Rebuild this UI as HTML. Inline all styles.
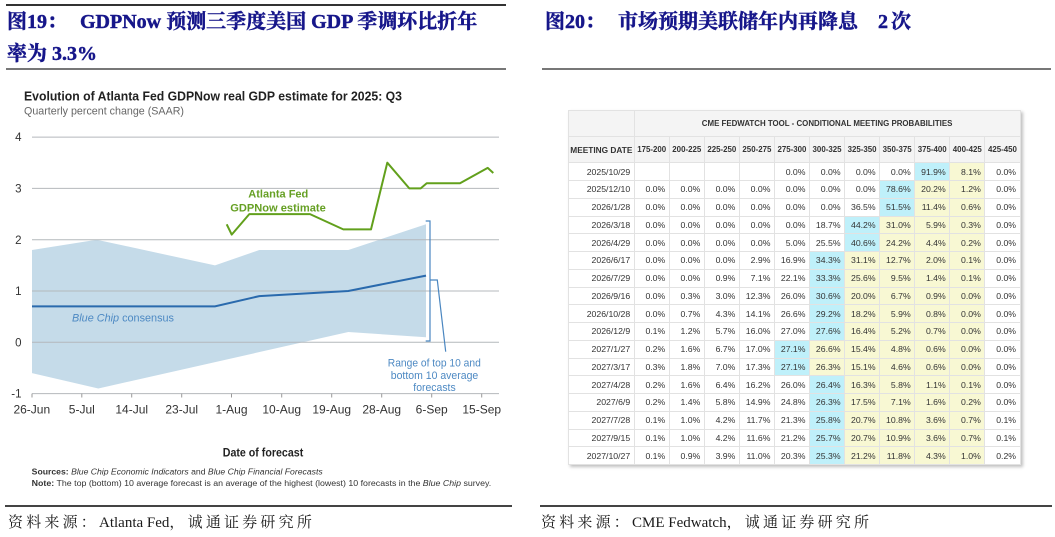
<!DOCTYPE html>
<html><head><meta charset="utf-8"><style>
html,body{margin:0;padding:0;background:#fff;}
body{width:1055px;height:537px;position:relative;overflow:hidden;}
.t{position:absolute;font-family:"Liberation Serif","Noto Serif CJK SC",serif;font-weight:bold;font-size:20px;color:#16168a;white-space:pre;line-height:20px;-webkit-text-stroke:0.45px #16168a;}
.ln{position:absolute;}
.ft{position:absolute;font-family:"Liberation Serif","Noto Serif CJK SC",serif;font-size:15px;color:#1a1a1a;white-space:pre;line-height:16px;}
.ft .c{letter-spacing:3.2px;}
table{position:absolute;left:568px;top:110px;width:451.5px;border-collapse:collapse;table-layout:fixed;font-family:"Liberation Sans",Arial,sans-serif;color:#333;box-shadow:2px 2px 3px rgba(0,0,0,0.25);background:#fff;}
td{border:1px solid #e2e2e2;padding:0 3.5px 0 0;font-size:8.7px;text-align:right;overflow:hidden;white-space:nowrap;}
tr.h td{background:#f4f4f4;font-weight:bold;font-size:7.9px;text-align:center;padding:0;}
tr.h td.md{font-size:8.3px;}
tr.h1{height:26px;} tr.h2{height:26.3px;}
tr.d{height:17.76px;}
td.c{background:#bff0fa;} td.y{background:#f8f8d3;}
</style></head><body>

<!-- left title -->
<div class="ln" style="left:6px;top:4px;width:500px;height:2px;background:#333;"></div>
<div class="t" style="left:7px;top:12px;">图19：</div>
<div class="t" style="left:80px;top:12px;">GDPNow 预测三季度美国 GDP 季调环比折年</div>
<div class="t" style="left:7px;top:44px;">率为 3.3%</div>
<div class="ln" style="left:6px;top:68px;width:500px;height:2px;background:#777;"></div>

<!-- right title -->
<div class="t" style="left:545px;top:12px;">图20：</div>
<div class="t" style="left:618px;top:12px;">市场预期美联储年内再降息</div>
<div class="t" style="left:878px;top:12px;">2</div>
<div class="t" style="left:891px;top:12px;">次</div>
<div class="ln" style="left:542px;top:68px;width:509px;height:2px;background:#777;"></div>

<!-- left chart -->
<svg width="530" height="500" style="position:absolute;left:0;top:0;" xmlns="http://www.w3.org/2000/svg">
<text x="24" y="100.5" font-family="Liberation Sans, Arial, sans-serif" font-size="12.5" font-weight="bold" fill="#222" textLength="378" lengthAdjust="spacingAndGlyphs">Evolution of Atlanta Fed GDPNow real GDP estimate for 2025: Q3</text>
<text x="24" y="114.5" font-family="Liberation Sans, Arial, sans-serif" font-size="11" fill="#666" textLength="160" lengthAdjust="spacingAndGlyphs">Quarterly percent change (SAAR)</text>

<polygon points="32,250 96.7,239.7 215,265.4 259.3,250 348.3,250 426,224.3 426,337.2 348.3,332 98.3,388.5 32,373.1" fill="#c5dbe9"/>

<g stroke="#b4b8bc" stroke-width="1">
<line x1="32" y1="137.1" x2="499" y2="137.1"/>
<line x1="32" y1="188.4" x2="499" y2="188.4"/>
<line x1="32" y1="239.7" x2="499" y2="239.7"/>
<line x1="32" y1="291" x2="499" y2="291"/>
<line x1="32" y1="342.3" x2="499" y2="342.3"/>
<line x1="32" y1="393.6" x2="499" y2="393.6"/>
</g>
<g stroke="#999" stroke-width="1">
<line x1="32" y1="393.6" x2="32" y2="397.5"/>
<line x1="81.8" y1="393.6" x2="81.8" y2="397.5"/>
<line x1="131.7" y1="393.6" x2="131.7" y2="397.5"/>
<line x1="181.7" y1="393.6" x2="181.7" y2="397.5"/>
<line x1="231.5" y1="393.6" x2="231.5" y2="397.5"/>
<line x1="281.7" y1="393.6" x2="281.7" y2="397.5"/>
<line x1="331.7" y1="393.6" x2="331.7" y2="397.5"/>
<line x1="381.7" y1="393.6" x2="381.7" y2="397.5"/>
<line x1="431.7" y1="393.6" x2="431.7" y2="397.5"/>
<line x1="481.7" y1="393.6" x2="481.7" y2="397.5"/>
</g>

<g font-family="Liberation Sans, Arial, sans-serif" font-size="11.5" fill="#333" text-anchor="end">
<text x="21.5" y="141.2">4</text>
<text x="21.5" y="192.5">3</text>
<text x="21.5" y="243.8">2</text>
<text x="21.5" y="295.1">1</text>
<text x="21.5" y="346.4">0</text>
<text x="21.5" y="397.7">-1</text>
</g>
<g font-family="Liberation Sans, Arial, sans-serif" font-size="12" fill="#333" text-anchor="middle">
<text x="31.8" y="413.3">26-Jun</text>
<text x="81.8" y="413.3">5-Jul</text>
<text x="131.7" y="413.3">14-Jul</text>
<text x="181.7" y="413.3">23-Jul</text>
<text x="231.5" y="413.3">1-Aug</text>
<text x="281.7" y="413.3">10-Aug</text>
<text x="331.7" y="413.3">19-Aug</text>
<text x="381.7" y="413.3">28-Aug</text>
<text x="431.7" y="413.3">6-Sep</text>
<text x="481.7" y="413.3">15-Sep</text>
</g>

<polyline points="32,306.4 215,306.4 259.3,296.1 348.3,291 426,275.6" fill="none" stroke="#2a6aad" stroke-width="2"/>
<polyline points="226.7,224.3 231.7,234.6 249.3,214.1 310,214.1 343.3,229.4 371,229.4 387.3,162.7 409.3,188.4 420.7,188.4 426.7,183.3 460,183.3 487.7,167.9 493.3,173" fill="none" stroke="#62a01c" stroke-width="2" stroke-linejoin="round"/>

<g stroke="#4a86c0" stroke-width="1.2" fill="none">
<polyline points="425.7,221 430,221 430,341 425.7,341"/>
<polyline points="430,280 437.3,280 445.7,351.7"/>
</g>

<g font-family="Liberation Sans, Arial, sans-serif" font-size="11" font-weight="bold" fill="#66a024" text-anchor="middle">
<text x="278.3" y="197.6" textLength="60" lengthAdjust="spacingAndGlyphs">Atlanta Fed</text>
<text x="278" y="211.6" textLength="95.5" lengthAdjust="spacingAndGlyphs">GDPNow estimate</text>
</g>

<text x="72" y="321.6" font-family="Liberation Sans, Arial, sans-serif" font-size="11" fill="#4d89c3" textLength="102" lengthAdjust="spacingAndGlyphs"><tspan font-style="italic">Blue Chip</tspan> consensus</text>

<g font-family="Liberation Sans, Arial, sans-serif" font-size="11" fill="#4d89c3" text-anchor="middle">
<text x="434.3" y="366.6" textLength="93" lengthAdjust="spacingAndGlyphs">Range of top 10 and</text>
<text x="434.5" y="378.8" textLength="87.5" lengthAdjust="spacingAndGlyphs">bottom 10 average</text>
<text x="434.5" y="390.8" textLength="42.4" lengthAdjust="spacingAndGlyphs">forecasts</text>
</g>

<text x="263" y="456.7" font-family="Liberation Sans, Arial, sans-serif" font-size="11.5" font-weight="bold" fill="#222" text-anchor="middle" textLength="80.5" lengthAdjust="spacingAndGlyphs">Date of forecast</text>

<text x="31.7" y="474.6" font-family="Liberation Sans, Arial, sans-serif" font-size="8" fill="#333" textLength="291" lengthAdjust="spacingAndGlyphs"><tspan font-weight="bold">Sources:</tspan> <tspan font-style="italic">Blue Chip Economic Indicators</tspan> and <tspan font-style="italic">Blue Chip Financial Forecasts</tspan></text>
<text x="31.7" y="486.2" font-family="Liberation Sans, Arial, sans-serif" font-size="8" fill="#333" textLength="459.5" lengthAdjust="spacingAndGlyphs"><tspan font-weight="bold">Note:</tspan> The top (bottom) 10 average forecast is an average of the highest (lowest) 10 forecasts in the <tspan font-style="italic">Blue Chip</tspan> survey.</text>
</svg>

<!-- table -->
<table>
<colgroup><col style="width:65.7px"><col style="width:35.07px"><col style="width:35.07px"><col style="width:35.07px"><col style="width:35.07px"><col style="width:35.07px"><col style="width:35.07px"><col style="width:35.07px"><col style="width:35.07px"><col style="width:35.07px"><col style="width:35.07px"><col style="width:35.07px"></colgroup>
<tr class="h h1"><td></td><td colspan="11">CME FEDWATCH TOOL - CONDITIONAL MEETING PROBABILITIES</td></tr>
<tr class="h h2"><td class="md">MEETING DATE</td><td>175-200</td><td>200-225</td><td>225-250</td><td>250-275</td><td>275-300</td><td>300-325</td><td>325-350</td><td>350-375</td><td>375-400</td><td>400-425</td><td>425-450</td></tr>
<tr class="d"><td>2025/10/29</td><td></td><td></td><td></td><td></td><td>0.0%</td><td>0.0%</td><td>0.0%</td><td>0.0%</td><td class="c">91.9%</td><td class="y">8.1%</td><td>0.0%</td></tr>
<tr class="d"><td>2025/12/10</td><td>0.0%</td><td>0.0%</td><td>0.0%</td><td>0.0%</td><td>0.0%</td><td>0.0%</td><td>0.0%</td><td class="c">78.6%</td><td class="y">20.2%</td><td class="y">1.2%</td><td>0.0%</td></tr>
<tr class="d"><td>2026/1/28</td><td>0.0%</td><td>0.0%</td><td>0.0%</td><td>0.0%</td><td>0.0%</td><td>0.0%</td><td>36.5%</td><td class="c">51.5%</td><td class="y">11.4%</td><td class="y">0.6%</td><td>0.0%</td></tr>
<tr class="d"><td>2026/3/18</td><td>0.0%</td><td>0.0%</td><td>0.0%</td><td>0.0%</td><td>0.0%</td><td>18.7%</td><td class="c">44.2%</td><td class="y">31.0%</td><td class="y">5.9%</td><td class="y">0.3%</td><td>0.0%</td></tr>
<tr class="d"><td>2026/4/29</td><td>0.0%</td><td>0.0%</td><td>0.0%</td><td>0.0%</td><td>5.0%</td><td>25.5%</td><td class="c">40.6%</td><td class="y">24.2%</td><td class="y">4.4%</td><td class="y">0.2%</td><td>0.0%</td></tr>
<tr class="d"><td>2026/6/17</td><td>0.0%</td><td>0.0%</td><td>0.0%</td><td>2.9%</td><td>16.9%</td><td class="c">34.3%</td><td class="y">31.1%</td><td class="y">12.7%</td><td class="y">2.0%</td><td class="y">0.1%</td><td>0.0%</td></tr>
<tr class="d"><td>2026/7/29</td><td>0.0%</td><td>0.0%</td><td>0.9%</td><td>7.1%</td><td>22.1%</td><td class="c">33.3%</td><td class="y">25.6%</td><td class="y">9.5%</td><td class="y">1.4%</td><td class="y">0.1%</td><td>0.0%</td></tr>
<tr class="d"><td>2026/9/16</td><td>0.0%</td><td>0.3%</td><td>3.0%</td><td>12.3%</td><td>26.0%</td><td class="c">30.6%</td><td class="y">20.0%</td><td class="y">6.7%</td><td class="y">0.9%</td><td class="y">0.0%</td><td>0.0%</td></tr>
<tr class="d"><td>2026/10/28</td><td>0.0%</td><td>0.7%</td><td>4.3%</td><td>14.1%</td><td>26.6%</td><td class="c">29.2%</td><td class="y">18.2%</td><td class="y">5.9%</td><td class="y">0.8%</td><td class="y">0.0%</td><td>0.0%</td></tr>
<tr class="d"><td>2026/12/9</td><td>0.1%</td><td>1.2%</td><td>5.7%</td><td>16.0%</td><td>27.0%</td><td class="c">27.6%</td><td class="y">16.4%</td><td class="y">5.2%</td><td class="y">0.7%</td><td class="y">0.0%</td><td>0.0%</td></tr>
<tr class="d"><td>2027/1/27</td><td>0.2%</td><td>1.6%</td><td>6.7%</td><td>17.0%</td><td class="c">27.1%</td><td class="y">26.6%</td><td class="y">15.4%</td><td class="y">4.8%</td><td class="y">0.6%</td><td class="y">0.0%</td><td>0.0%</td></tr>
<tr class="d"><td>2027/3/17</td><td>0.3%</td><td>1.8%</td><td>7.0%</td><td>17.3%</td><td class="c">27.1%</td><td class="y">26.3%</td><td class="y">15.1%</td><td class="y">4.6%</td><td class="y">0.6%</td><td class="y">0.0%</td><td>0.0%</td></tr>
<tr class="d"><td>2027/4/28</td><td>0.2%</td><td>1.6%</td><td>6.4%</td><td>16.2%</td><td>26.0%</td><td class="c">26.4%</td><td class="y">16.3%</td><td class="y">5.8%</td><td class="y">1.1%</td><td class="y">0.1%</td><td>0.0%</td></tr>
<tr class="d"><td>2027/6/9</td><td>0.2%</td><td>1.4%</td><td>5.8%</td><td>14.9%</td><td>24.8%</td><td class="c">26.3%</td><td class="y">17.5%</td><td class="y">7.1%</td><td class="y">1.6%</td><td class="y">0.2%</td><td>0.0%</td></tr>
<tr class="d"><td>2027/7/28</td><td>0.1%</td><td>1.0%</td><td>4.2%</td><td>11.7%</td><td>21.3%</td><td class="c">25.8%</td><td class="y">20.7%</td><td class="y">10.8%</td><td class="y">3.6%</td><td class="y">0.7%</td><td>0.1%</td></tr>
<tr class="d"><td>2027/9/15</td><td>0.1%</td><td>1.0%</td><td>4.2%</td><td>11.6%</td><td>21.2%</td><td class="c">25.7%</td><td class="y">20.7%</td><td class="y">10.9%</td><td class="y">3.6%</td><td class="y">0.7%</td><td>0.1%</td></tr>
<tr class="d"><td>2027/10/27</td><td>0.1%</td><td>0.9%</td><td>3.9%</td><td>11.0%</td><td>20.3%</td><td class="c">25.3%</td><td class="y">21.2%</td><td class="y">11.8%</td><td class="y">4.3%</td><td class="y">1.0%</td><td>0.2%</td></tr>
</table>

<!-- footers -->
<div class="ln" style="left:5px;top:505px;width:507px;height:1.5px;background:#444;"></div>
<div class="ln" style="left:540px;top:505px;width:512px;height:1.5px;background:#444;"></div>
<div class="ft" style="left:8px;top:515px;"><span class="c">资料来源：</span>Atlanta Fed<span class="c">，诚通证券研究所</span></div>
<div class="ft" style="left:541px;top:515px;"><span class="c">资料来源：</span>CME Fedwatch<span class="c">，诚通证券研究所</span></div>
</body></html>
